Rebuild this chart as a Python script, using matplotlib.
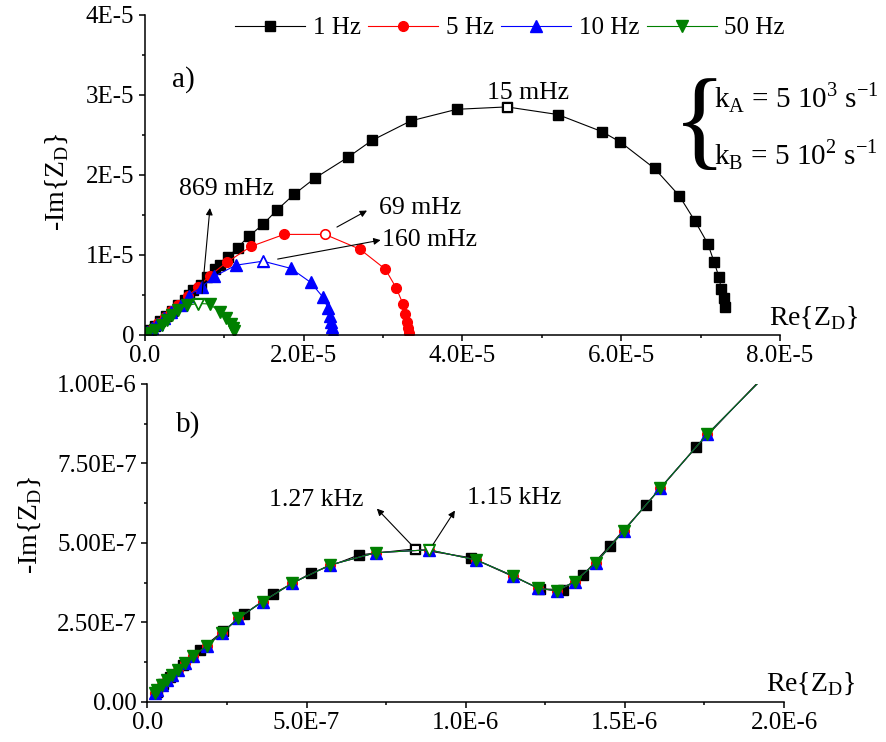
import numpy as np
import matplotlib
matplotlib.use('Agg')
from matplotlib import pyplot as plt

plt.rcParams['font.family'] = ['Liberation Serif', 'DejaVu Serif']
plt.rcParams['mathtext.fontset'] = 'custom'
plt.rcParams['mathtext.rm'] = 'Liberation Serif'

# ---- panel a data (units of 1E-5) ----
a_1hz_x = [0.07, 0.13, 0.19, 0.27, 0.34, 0.42, 0.51, 0.56, 0.61, 0.71, 0.79, 0.885, 0.95, 1.05, 1.17,
           1.31, 1.49, 1.66, 1.88, 2.145, 2.56, 2.86, 3.35, 3.93, 4.56, 5.20, 5.76, 5.99, 6.42, 6.73,
           6.93, 7.09, 7.17, 7.23, 7.26, 7.29, 7.31]
a_1hz_y = [0.06, 0.11, 0.17, 0.23, 0.30, 0.37, 0.44, 0.50, 0.56, 0.62, 0.725, 0.82, 0.87, 0.97, 1.09,
           1.23, 1.38, 1.555, 1.755, 1.96, 2.22, 2.43, 2.675, 2.82, 2.85, 2.755, 2.54, 2.41, 2.08, 1.74,
           1.42, 1.14, 0.91, 0.725, 0.57, 0.455, 0.35]
a_1hz_open = 24

a_5hz_x = [0.04, 0.10, 0.17, 0.25, 0.33, 0.42, 0.54, 0.675, 0.82, 1.04, 1.34, 1.755, 2.27, 2.71, 3.03,
           3.17, 3.25, 3.28, 3.30, 3.315, 3.325]
a_5hz_y = [0.03, 0.09, 0.15, 0.22, 0.30, 0.37, 0.48, 0.60, 0.74, 0.91, 1.105, 1.255, 1.255, 1.07, 0.82,
           0.58, 0.39, 0.26, 0.16, 0.08, 0.025]
a_5hz_open = 12

a_10hz_x = [0.03, 0.09, 0.16, 0.24, 0.33, 0.457, 0.56, 0.72, 0.877, 1.15, 1.49, 1.84, 2.09, 2.24, 2.31,
            2.33, 2.35, 2.36, 2.37]
a_10hz_y = [0.03, 0.08, 0.14, 0.21, 0.28, 0.37, 0.49, 0.60, 0.73, 0.87, 0.92, 0.83, 0.655, 0.475, 0.33,
            0.24, 0.16, 0.10, 0.04]
a_10hz_open = 10

a_50hz_x = [0.045, 0.13, 0.214, 0.277, 0.34, 0.415, 0.53, 0.675, 0.82, 0.95, 1.03, 1.09, 1.115, 1.13]
a_50hz_y = [0.025, 0.06, 0.12, 0.18, 0.245, 0.31, 0.37, 0.39, 0.385, 0.28, 0.205, 0.14, 0.09, 0.045]
a_50hz_open = 7

# ---- panel b data (units of 1E-7) ----
b_sq_x = [0.30, 0.50, 0.71, 1.13, 1.65, 2.385, 3.045, 3.94, 5.13, 6.65, 8.40, 10.18, 12.35, 13.05,
          13.69, 14.52, 15.67, 17.24, 19.7]
b_sq_y = [0.32, 0.55, 0.79, 1.15, 1.62, 2.23, 2.76, 3.39, 4.04, 4.62, 4.81, 4.53, 3.55, 3.53,
          3.99, 4.90, 6.20, 8.01, 10.6]
b_sq_open = 10

b_tri_x = [0.24, 0.31, 0.45, 0.61, 0.77, 0.97, 1.18, 1.44, 1.86, 2.335, 2.86, 3.62, 4.55, 5.73, 7.18,
           8.84, 10.34, 11.49, 12.27, 12.87, 13.42, 14.10, 14.96, 16.11, 17.59, 19.6]
b_tri_y = [0.26, 0.37, 0.53, 0.68, 0.84, 1.00, 1.21, 1.44, 1.75, 2.15, 2.63, 3.15, 3.73, 4.30, 4.69,
           4.78, 4.46, 3.96, 3.57, 3.49, 3.78, 4.38, 5.37, 6.72, 8.42, 10.45]
b_tri_open = 15

labels = ['1 Hz', '5 Hz', '10 Hz', '50 Hz']
colors = ['black', 'red', 'blue', 'green']
markers = ['s', 'o', '^', 'v']

a_xticks = [0, 2e-5, 4e-5, 6e-5, 8e-5]
a_xticklabels = ['0.0', '2.0E-5', '4.0E-5', '6.0E-5', '8.0E-5']
a_yticks = [0, 1e-5, 2e-5, 3e-5, 4e-5]
a_yticklabels = ['0', '1E-5', '2E-5', '3E-5', '4E-5']
b_xticks = [0, 5e-7, 1e-6, 1.5e-6, 2e-6]
b_xticklabels = ['0.0', '5.0E-7', '1.0E-6', '1.5E-6', '2.0E-6']
b_yticks = [0, 2.5e-7, 5e-7, 7.5e-7, 1e-6]
b_yticklabels = ['0.00', '2.50E-7', '5.00E-7', '7.50E-7', '1.00E-6']

fs = 18
msz = {'s': 6.5, 'o': 7, '^': 8, 'v': 8}

fig = plt.figure(figsize=(8.87, 7.42), dpi=100)
ax1 = fig.add_axes([0.1631, 0.5489, 0.7163, 0.4309])
ax2 = fig.add_axes([0.1661, 0.0543, 0.7178, 0.4282])


def style(ax, xt, xtl, yt, ytl):
    for s in ['top', 'right']:
        ax.spines[s].set_visible(False)
    for s in ['left', 'bottom']:
        ax.spines[s].set_linewidth(1.1)
    ax.set_xticks(xt, xtl)
    ax.set_yticks(yt, ytl)
    ax.set_xticks([(xt[i] + xt[i + 1]) / 2 for i in range(len(xt) - 1)], minor=True)
    ax.set_yticks([(yt[i] + yt[i + 1]) / 2 for i in range(len(yt) - 1)], minor=True)
    ax.tick_params(which='major', direction='out', length=4.5, width=1.1, labelsize=fs, pad=3)
    ax.tick_params(which='minor', direction='out', length=2.5, width=1.1)
    ax.set_xlim(xt[0], xt[-1])
    ax.set_ylim(yt[0], yt[-1])


def draw(ax, x, y, c, m, lab, scale, open_i=None):
    x = np.array(x) * scale
    y = np.array(y) * scale
    ax.plot(x, y, color=c, lw=0.8, marker=m, ms=msz[m], mec=c, mfc=c, label=lab)
    if open_i is not None:
        ax.plot(x[open_i], y[open_i], ls='none', marker=m, ms=msz[m] - 0.5, mec=c, mfc='white', mew=0.8)


# panel a
draw(ax1, a_1hz_x, a_1hz_y, colors[0], markers[0], labels[0], 1e-5, a_1hz_open)
draw(ax1, a_5hz_x, a_5hz_y, colors[1], markers[1], labels[1], 1e-5, a_5hz_open)
draw(ax1, a_10hz_x, a_10hz_y, colors[2], markers[2], labels[2], 1e-5, a_10hz_open)
draw(ax1, a_50hz_x, a_50hz_y, colors[3], markers[3], labels[3], 1e-5, a_50hz_open)
style(ax1, a_xticks, a_xticklabels, a_yticks, a_yticklabels)

arr = dict(arrowstyle='-|>', color='black', lw=0.8, mutation_scale=10)
ax1.annotate('', xy=(0.825e-5, 1.62e-5), xytext=(0.72e-5, 0.48e-5), arrowprops=arr)
ax1.annotate('', xy=(2.83e-5, 1.57e-5), xytext=(2.39e-5, 1.33e-5), arrowprops=arr)
ax1.annotate('', xy=(3.005e-5, 1.19e-5), xytext=(1.64e-5, 0.94e-5), arrowprops=arr)

fig.text(227 / 887, 1 - 189 / 742, '869 mHz', fontsize=fs + 0.5, ha='center', va='center')
fig.text(420 / 887, 1 - 208 / 742, '69 mHz', fontsize=fs + 0.5, ha='center', va='center')
fig.text(430 / 887, 1 - 240 / 742, '160 mHz', fontsize=fs + 0.5, ha='center', va='center')
fig.text(528 / 887, 1 - 93 / 742, '15 mHz', fontsize=fs + 0.5, ha='center', va='center')
fig.text(183 / 887, 1 - 80 / 742, 'a)', fontsize=21, ha='center', va='center')

fig.text(700 / 887, 1 - 128 / 742, '{', fontsize=80, ha='center', va='center')
fig.text(714 / 887, 1 - 98 / 742, r'k$_\mathregular{A}$ = 5 10$^\mathregular{3}$ s$^\mathregular{-1}$',
         fontsize=21, ha='left', va='center')
fig.text(714 / 887, 1 - 155 / 742, r'k$_\mathregular{B}$ = 5 10$^\mathregular{2}$ s$^\mathregular{-1}$',
         fontsize=21, ha='left', va='center')

fig.text(57 / 887, 1 - 182 / 742, r'-Im{Z$_\mathregular{D}$}', fontsize=20, rotation=90, ha='center', va='center')
fig.text(813 / 887, 1 - 318 / 742, r'Re{Z$_\mathregular{D}$}', fontsize=20, ha='center', va='center')

fig.legend(loc='center', bbox_to_anchor=(510 / 887, 1 - 28 / 742), ncol=4, frameon=False, fontsize=fs,
           handlelength=2.8, handletextpad=0.3, columnspacing=0.3, borderaxespad=0)

# panel b
draw(ax2, b_sq_x, b_sq_y, colors[0], markers[0], labels[0], 1e-7, b_sq_open)
draw(ax2, b_tri_x, b_tri_y, colors[1], markers[1], labels[1], 1e-7)
draw(ax2, b_tri_x, b_tri_y, colors[2], markers[2], labels[2], 1e-7)
draw(ax2, b_tri_x, b_tri_y, colors[3], markers[3], labels[3], 1e-7, b_tri_open)
style(ax2, b_xticks, b_xticklabels, b_yticks, b_yticklabels)

ax2.annotate('', xy=(7.15e-7, 6.14e-7), xytext=(8.35e-7, 4.88e-7), arrowprops=arr)
ax2.annotate('', xy=(9.71e-7, 6.09e-7), xytext=(8.93e-7, 4.88e-7), arrowprops=arr)
fig.text(316 / 887, 1 - 500 / 742, '1.27 kHz', fontsize=fs + 0.5, ha='center', va='center')
fig.text(514 / 887, 1 - 498 / 742, '1.15 kHz', fontsize=fs + 0.5, ha='center', va='center')
fig.text(188 / 887, 1 - 425 / 742, 'b)', fontsize=21, ha='center', va='center')

fig.text(30 / 887, 1 - 525 / 742, r'-Im{Z$_\mathregular{D}$}', fontsize=20, rotation=90, ha='center', va='center')
fig.text(810 / 887, 1 - 684 / 742, r'Re{Z$_\mathregular{D}$}', fontsize=20, ha='center', va='center')

plt.savefig('out.png', dpi=100)
